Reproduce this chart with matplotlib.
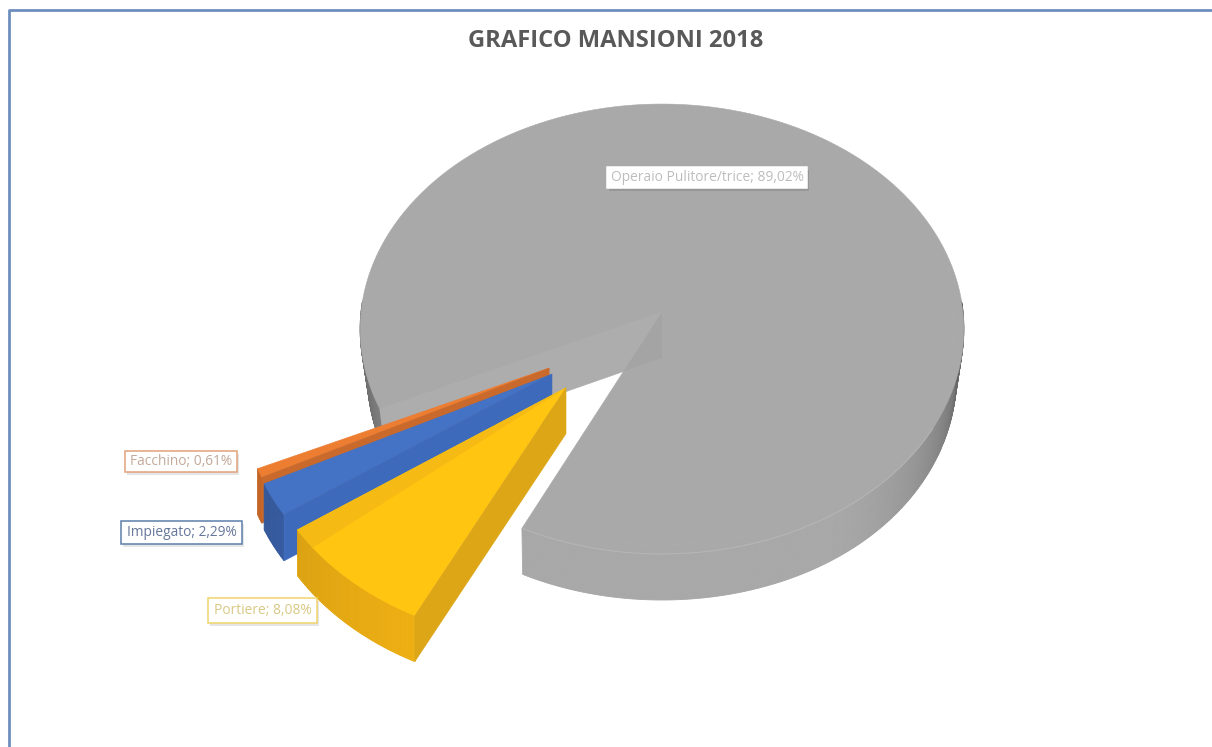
import numpy as np
import matplotlib
matplotlib.use("Agg")
import matplotlib.pyplot as plt
from matplotlib.patches import Polygon, Rectangle

# Job shares for the year, clockwise from the lower cut of the big slice
names = ["Portiere", "Impiegato", "Facchino", "Operaio Pulitore/trice"]
values = [8.08, 2.29, 0.61, 89.02]
title = "GRAFICO MANSIONI 2018"

top_colors = ["#FFC511", "#4472C4", "#ED7D31", "#A9A9A9"]
wall_colors = ["#DDA616", "#3E6ABB", "#C96A2C", "#ADADAD"]
rim_colors = ["#EEAF12", "#3A62AC", "#D8702A", "#A8A8A8"]
label_edges = ["#EFD56A", "#5B7FA8", "#E2A27C", "#FFFFFF"]
label_text = ["#D9C883", "#65779A", "#C2A99A", "#BDBDBD"]
label_boxes = [(208, 598, 109, 25), (121, 521, 121, 23), (125, 451, 112, 21), (607, 167, 200, 21)]

# Exploded offset of each slice on the pie plane
offsets = [(-0.311, -0.330), (-0.358, -0.272), (-0.368, -0.246), (0, 0)]

# Perspective of the pie plane on the canvas
CX, CY = 662, 312
RX, RY = 301, 223.7
PERSP = 0.0756
DEPTH = 46
NARROW = 0.024
START = 244.3


def project(x, y):
    s = 1 / (1 + PERSP * np.asarray(y))
    return CX + RX * np.asarray(x) * s, CY - RY * np.asarray(y) * s


def lower(px, py, exploded):
    # the bottom face sits lower; on the big slice it pulls in at the far sides
    if exploded:
        return px, py + DEPTH
    d = px - CX
    return CX + d * (1 - NARROW * (d / RX) ** 2), py + DEPTH


def arc(a0, a1, off, n=160):
    t = np.radians(np.linspace(a0, a1, n))
    return off[0] + np.cos(t), off[1] + np.sin(t)


def shade(hex_color, f):
    rgb = np.array(matplotlib.colors.to_rgb(hex_color))
    return tuple(np.clip(rgb * f, 0, 1))


def rim_shade(a, exploded):
    # darker towards the two sides of the pie
    a = a % 360
    if exploded:
        return 0.90 + 0.10 * np.clip((a - 205) / 40, 0, 1)
    if a < 230:
        return 0.55 + 0.2 * (a - 180) / 25
    return 1.0 - 0.48 * max(0, (a - 300) / 60) ** 1.6


def draw_slice(ax, a0, a1, off, top, wall, rim, z):
    exploded = off != (0, 0)
    # outer wall as narrow quads, only the part facing the viewer
    steps = np.linspace(a1, a0, max(int(a0 - a1) * 2, 6))
    for b0, b1 in zip(steps[:-1], steps[1:]):
        mid = (b0 + b1) / 2
        if np.sin(np.radians(mid)) > 0.05:
            continue
        xs, ys = arc(b0, b1, off, 2)
        px, py = project(xs, ys)
        lx, ly = lower(px, py, exploded)
        qx = np.r_[px, lx[::-1]]
        qy = np.r_[py, ly[::-1]]
        col = shade(rim, rim_shade(mid, exploded))
        ax.add_patch(Polygon(np.c_[qx, qy], fc=col, ec=col, lw=0.6, zorder=z))

    # top face
    xs, ys = arc(a0, a1, off)
    px, py = project(np.r_[off[0], xs], np.r_[off[1], ys])
    top_patch = Polygon(np.c_[px, py], fc=top, ec=top, lw=0.4, zorder=z + 1)
    ax.add_patch(top_patch)

    # cut wall running from the centre to the rim, on the side facing the viewer
    t = np.radians(a0)
    ex, ey = project([off[0], off[0] + np.cos(t)], [off[1], off[1] + np.sin(t)])
    lx, ly = lower(ex, ey, exploded)
    quad = np.c_[np.r_[ex, lx[::-1]], np.r_[ey, ly[::-1]]]
    ax.add_patch(Polygon(quad, fc=wall, ec=wall, lw=0.4, zorder=z + 2))
    return top_patch, quad


fig = plt.figure(figsize=(12.12, 7.47), dpi=100)
ax = fig.add_axes([0, 0, 1, 1])
ax.set_xlim(0, 1212)
ax.set_ylim(747, 0)
ax.axis("off")

# chart frame, only the left and top edges fall on the canvas
ax.plot([9, 9, 1220], [760, 10, 10], color="#6E8FBE", lw=2, zorder=1)

angles = np.array(values) / sum(values) * 360
ends = START - np.cumsum(angles)
starts = np.r_[START, ends[:-1]]

# big slice first, the exploded ones sit in front of it
order = [3, 2, 1, 0]
parts = {}
for k, i in enumerate(order):
    parts[i] = draw_slice(ax, starts[i], ends[i], offsets[i], top_colors[i], wall_colors[i], rim_colors[i], 3 + 4 * k)

# the part of the big cut wall showing over its own top face is a bit darker
grey_top, grey_wall = parts[3]
overlap = Polygon(grey_wall, fc="#A4A4A4", ec="none", zorder=6)
ax.add_patch(overlap)
overlap.set_clip_path(grey_top)

# faint inner ring on the big slice and a lighter front edge
xs, ys = arc(ends[3], 20, (0, 0), 300)
rx, ry = project(0.965 * xs, 0.965 * ys)
ax.plot(rx, ry, color="#B0B0B0", lw=0.7, alpha=0.35, zorder=4.5)
xs, ys = arc(ends[3], -30, (0, 0), 200)
px, py = project(xs, ys)
ax.plot(px, py, color="#BDBDBD", lw=0.8, alpha=0.6, zorder=5)

# darker sheen along the upper edge of the yellow slice
xs, ys = arc(ends[0] + 5, ends[0], offsets[0], 20)
px, py = project(np.r_[offsets[0][0], xs], np.r_[offsets[0][1], ys])
ax.add_patch(Polygon(np.c_[px, py], fc="#F5BB14", ec="none", zorder=16.5))

# labels with a soft shadow
for i, name in enumerate(names):
    x0, y0, w, h = label_boxes[i]
    ax.add_patch(Rectangle((x0 + 1.5, y0 + 2.5), w, h, fc="#000000", ec="none", alpha=0.10, zorder=30))
    ax.add_patch(Rectangle((x0, y0), w, h, fc="white", ec=label_edges[i], lw=1.1, zorder=31))
    txt = f"{name}; {values[i]:.2f}%".replace(".", ",")
    ax.text(x0 + w / 2, y0 + h / 2, txt, ha="center", va="center", fontsize=9.9,
            family="Open Sans", color=label_text[i], zorder=32)

ax.text(615.5, 41, title, ha="center", va="center", fontsize=17.1, fontweight="bold",
        family="Open Sans", color="#595959")

fig.savefig("out.png", dpi=100)
